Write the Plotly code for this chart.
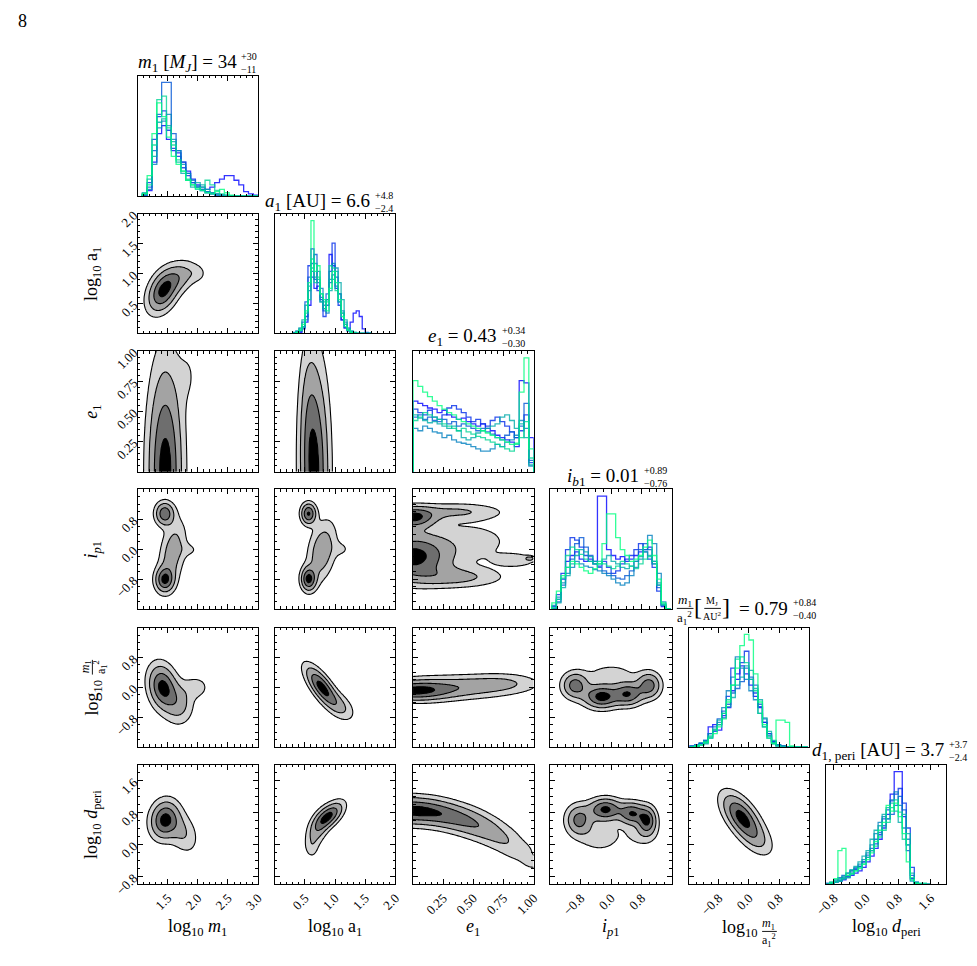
import numpy as np
import plotly.graph_objects as go

W, H = 977, 966
SERIF = "Liberation Serif"

# ------------------------------------------------------------------ data
axis_ranges = [(1.0, 3.0), (0.0, 2.0), (0.0, 1.0), (-1.6, 1.6), (-1.6, 1.6), (-1.0, 2.0)]
tick_values = [[1.5, 2.0, 2.5, 3.0], [0.5, 1.0, 1.5, 2.0], [0.25, 0.50, 0.75, 1.00],
               [-0.8, 0.0, 0.8], [-0.8, 0.0, 0.8], [-0.8, 0.0, 0.8, 1.6]]
tick_labels = [["1.5", "2.0", "2.5", "3.0"], ["0.5", "1.0", "1.5", "2.0"],
               ["0.25", "0.50", "0.75", "1.00"], ["\u22120.8", "0.0", "0.8"],
               ["\u22120.8", "0.0", "0.8"], ["\u22120.8", "0.0", "0.8", "1.6"]]
minor_step = [0.1, 0.1, 0.05, 0.2, 0.2, 0.2]

# histogram bins (start, width) for each parameter
hist_bin_start = [1.08, 0.30, 0.00, -1.56, -1.56, -1.00]
hist_bin_width = [0.08, 0.05, 0.04, 0.12, 0.12, 0.10]

# per-chain histograms (ordered blue -> green)
hist_log_m1 = [
    [1, 5, 30, 55, 62, 50, 40, 38, 30, 22, 15, 10, 8, 6, 8, 12, 15, 18, 18, 14, 10, 4, 2, 1],
    [1, 12, 50, 70, 75, 58, 42, 35, 25, 18, 12, 8, 5, 3, 2, 1, 1, 0, 0, 0, 0, 0, 0, 0],
    [2, 8, 40, 72, 100, 100, 55, 40, 30, 20, 12, 8, 6, 4, 3, 2, 1, 1, 0, 0, 0, 0, 0, 0],
    [1, 6, 28, 60, 66, 72, 50, 40, 28, 20, 14, 9, 6, 4, 2, 1, 0, 0, 0, 0, 0, 0, 0, 0],
    [3, 15, 35, 65, 68, 62, 48, 30, 20, 14, 8, 12, 10, 6, 3, 2, 1, 0, 0, 0, 0, 0, 0, 0],
    [2, 10, 45, 85, 88, 60, 45, 32, 22, 15, 10, 6, 8, 14, 10, 5, 2, 1, 0, 0, 0, 0, 0, 0],
    [2, 18, 55, 82, 70, 52, 35, 28, 22, 14, 10, 7, 5, 3, 2, 4, 6, 3, 1, 0, 0, 0, 0, 0],
]
hist_log_a1 = [
    [0, 0, 1, 4, 10, 25, 50, 40, 42, 30, 22, 30, 70, 60, 40, 28, 12, 5, 3, 10, 18, 20, 15, 4, 1, 0],
    [0, 1, 2, 6, 15, 60, 75, 48, 38, 28, 15, 25, 55, 80, 50, 25, 12, 5, 2, 1, 0, 0, 0, 0, 0, 0],
    [1, 2, 4, 10, 28, 50, 62, 70, 45, 32, 20, 35, 45, 52, 42, 35, 18, 8, 3, 1, 0, 0, 0, 0, 0, 0],
    [0, 1, 2, 5, 12, 38, 55, 50, 55, 40, 25, 18, 48, 62, 58, 35, 20, 10, 4, 2, 1, 0, 0, 0, 0, 0],
    [0, 2, 5, 12, 25, 42, 58, 62, 48, 35, 28, 30, 38, 48, 55, 45, 30, 12, 5, 2, 0, 0, 0, 0, 0, 0],
    [0, 1, 3, 6, 18, 30, 66, 45, 50, 28, 22, 28, 60, 58, 38, 28, 18, 8, 3, 1, 1, 0, 0, 0, 0, 0],
    [0, 1, 3, 8, 20, 45, 100, 55, 60, 35, 30, 20, 40, 55, 45, 30, 15, 6, 3, 1, 0, 0, 0, 0, 0, 0],
]
hist_e1 = [
    [62, 60, 58, 56, 55, 52, 54, 50, 48, 46, 47, 44, 42, 40, 42, 38, 36, 32, 30, 28, 26, 22, 80, 78, 30],
    [55, 52, 50, 54, 48, 46, 50, 56, 58, 55, 52, 48, 44, 46, 42, 40, 45, 48, 44, 40, 35, 30, 36, 50, 8],
    [48, 50, 46, 48, 45, 44, 46, 42, 44, 40, 42, 40, 38, 36, 38, 35, 33, 30, 28, 32, 35, 30, 40, 60, 10],
    [38, 36, 40, 38, 35, 34, 30, 32, 28, 26, 25, 24, 22, 20, 18, 18, 20, 24, 22, 26, 28, 32, 45, 38, 5],
    [50, 47, 45, 43, 44, 42, 40, 38, 40, 36, 30, 28, 30, 34, 36, 38, 40, 42, 48, 50, 45, 38, 42, 30, 6],
    [45, 48, 52, 50, 48, 46, 42, 40, 38, 36, 38, 35, 33, 31, 30, 28, 26, 24, 22, 20, 18, 24, 30, 44, 12],
    [80, 75, 70, 66, 62, 58, 55, 52, 50, 46, 44, 42, 40, 38, 36, 34, 32, 30, 28, 26, 24, 25, 70, 100, 20],
]
hist_ip1 = [
    [0, 8, 25, 40, 45, 48, 42, 40, 42, 40, 95, 95, 50, 45, 42, 44, 40, 42, 45, 48, 50, 52, 40, 20, 2, 0],
    [2, 12, 30, 50, 60, 58, 52, 45, 40, 38, 36, 40, 35, 30, 32, 38, 42, 45, 50, 55, 48, 42, 35, 15, 3, 0],
    [0, 6, 20, 35, 42, 55, 60, 52, 45, 38, 35, 32, 30, 28, 26, 25, 28, 32, 40, 50, 55, 50, 38, 18, 4, 0],
    [3, 10, 22, 30, 35, 40, 38, 36, 35, 33, 32, 30, 28, 25, 22, 20, 22, 28, 35, 42, 50, 62, 55, 30, 6, 0],
    [0, 5, 18, 28, 38, 45, 50, 48, 44, 40, 38, 42, 45, 40, 38, 35, 34, 36, 40, 44, 48, 45, 38, 22, 3, 0],
    [1, 8, 26, 45, 52, 50, 46, 42, 40, 38, 40, 38, 36, 34, 36, 40, 38, 36, 34, 38, 42, 44, 40, 20, 4, 0],
    [5, 15, 28, 35, 40, 38, 35, 32, 30, 34, 38, 55, 80, 80, 60, 50, 45, 40, 42, 45, 52, 58, 45, 25, 5, 0],
]
hist_log_m1_a1sq = [
    [1, 2, 3, 6, 18, 20, 15, 28, 35, 50, 60, 72, 65, 55, 45, 35, 22, 12, 5, 2, 1, 0, 0, 0, 0, 0],
    [0, 1, 2, 4, 8, 14, 20, 26, 45, 70, 65, 75, 85, 60, 48, 36, 22, 10, 4, 2, 0, 0, 0, 0, 0, 0],
    [0, 1, 3, 5, 12, 18, 25, 32, 38, 48, 52, 58, 70, 62, 55, 38, 25, 12, 5, 2, 1, 0, 0, 0, 0, 0],
    [1, 2, 4, 6, 12, 15, 22, 35, 50, 62, 80, 70, 60, 50, 42, 30, 18, 8, 3, 1, 0, 0, 0, 0, 0, 0],
    [0, 1, 2, 3, 9, 16, 24, 30, 36, 44, 55, 62, 72, 68, 52, 42, 26, 14, 6, 2, 1, 0, 0, 0, 0, 0],
    [0, 1, 2, 5, 10, 15, 20, 30, 42, 55, 78, 80, 75, 60, 50, 30, 18, 10, 4, 1, 0, 0, 0, 0, 0, 0],
    [0, 1, 2, 4, 8, 12, 18, 25, 40, 55, 70, 90, 100, 95, 65, 40, 20, 8, 3, 24, 24, 22, 1, 0, 0, 0],
]
hist_log_dperi = [
    [0, 1, 2, 3, 4, 6, 8, 10, 12, 15, 20, 25, 32, 40, 50, 62, 80, 100, 100, 60, 35, 5, 1, 0, 0, 0],
    [0, 1, 2, 3, 5, 7, 10, 13, 16, 20, 24, 30, 36, 44, 58, 66, 74, 80, 85, 72, 50, 15, 2, 0, 0, 0],
    [1, 2, 4, 6, 8, 10, 12, 14, 16, 20, 26, 32, 40, 46, 52, 58, 62, 70, 78, 66, 30, 8, 1, 0, 0, 0],
    [0, 1, 2, 4, 6, 8, 12, 15, 18, 22, 28, 35, 45, 55, 60, 58, 75, 82, 70, 50, 40, 3, 0, 0, 0, 0],
    [0, 1, 3, 5, 7, 10, 13, 16, 20, 25, 30, 40, 48, 52, 62, 68, 72, 65, 55, 62, 45, 10, 2, 0, 0, 0],
    [0, 1, 2, 3, 5, 6, 9, 12, 15, 18, 24, 30, 34, 42, 48, 55, 68, 75, 64, 40, 35, 6, 1, 1, 1, 0],
    [0, 2, 5, 30, 32, 8, 10, 12, 14, 18, 22, 28, 38, 48, 55, 70, 65, 72, 60, 45, 20, 4, 1, 0, 0, 0],
]
hist_sets = [hist_log_m1, hist_log_a1, hist_e1, hist_ip1, hist_log_m1_a1sq, hist_log_dperi]

# 2-D posterior density peaks: (x, y, sigma_x, sigma_y, corr, weight)
blobs_a1_m1 = [(1.42, 0.70, 0.16, 0.22, 0.35, 1.0), (1.70, 0.95, 0.18, 0.17, 0.3, 0.45),
               (2.0, 1.0, 0.11, 0.10, 0.0, 0.15)]
blobs_e1_m1 = [(1.46, 0.0, 0.18, 0.55, 0.0, 1.0), (1.85, 0.8, 0.13, 0.18, 0.0, 0.12)]
blobs_ip1_m1 = [(1.45, 0.95, 0.10, 0.20, 0.0, 1.0), (1.45, -0.82, 0.10, 0.21, 0.0, 1.0),
                (1.58, -0.10, 0.14, 0.55, 0.35, 0.6), (1.88, -0.02, 0.13, 0.14, 0.0, 0.16)]
blobs_q_m1 = [(1.42, 0.0, 0.15, 0.38, -0.2, 1.0), (1.70, -0.45, 0.15, 0.35, 0.0, 0.4),
              (1.98, 0.0, 0.14, 0.20, 0.0, 0.22)]
blobs_d_m1 = [(1.45, 0.62, 0.15, 0.30, 0.1, 1.0), (1.75, 0.30, 0.16, 0.33, -0.3, 0.35)]
blobs_e1_a1 = [(0.66, 0.0, 0.15, 0.55, 0.0, 1.0), (0.55, 0.5, 0.10, 0.40, 0.0, 0.2)]
blobs_ip1_a1 = [(0.56, 0.95, 0.08, 0.18, 0.0, 1.0), (0.56, -0.80, 0.08, 0.20, 0.0, 1.0),
                (0.78, -0.05, 0.15, 0.50, 0.3, 0.6), (1.12, 0.0, 0.11, 0.15, 0.0, 0.15)]
blobs_q_a1 = [(0.78, 0.0, 0.17, 0.35, -0.75, 1.0), (1.1, -0.5, 0.15, 0.25, -0.5, 0.3)]
blobs_d_a1 = [(0.9, 0.72, 0.15, 0.22, 0.6, 1.0), (0.7, 0.35, 0.12, 0.30, 0.5, 0.45),
              (0.62, -0.1, 0.07, 0.18, 0.0, 0.15)]
blobs_ip1_e1 = [(0.0, -0.2, 0.20, 0.40, 0.0, 1.0), (0.0, 0.85, 0.12, 0.18, 0.0, 0.9),
                (0.35, 1.0, 0.25, 0.15, 0.0, 0.35), (0.35, -0.75, 0.25, 0.18, 0.0, 0.4),
                (0.5, 0.2, 0.25, 0.40, 0.0, 0.2), (0.85, -0.3, 0.12, 0.12, 0.0, 0.25),
                (0.97, -0.25, 0.025, 0.04, 0.0, 0.35)]
blobs_q_e1 = [(0.0, -0.1, 0.20, 0.17, 0.0, 1.0), (0.35, 0.0, 0.30, 0.20, 0.0, 0.6),
              (0.75, 0.12, 0.20, 0.17, 0.0, 0.35)]
blobs_d_e1 = [(-0.125, 0.86, 0.1, 0.22, 0, 1.0), (0.0, 0.85, 0.1, 0.22, 0, 1.0),
              (0.125, 0.83, 0.1, 0.22, 0, 0.95), (0.25, 0.76, 0.1, 0.22, 0, 0.88),
              (0.375, 0.66, 0.1, 0.22, 0, 0.8), (0.5, 0.53, 0.1, 0.22, 0, 0.72),
              (0.625, 0.36, 0.1, 0.21, 0, 0.62), (0.75, 0.13, 0.1, 0.2, 0, 0.5),
              (0.875, -0.15, 0.1, 0.18, 0, 0.38), (1.0, -0.48, 0.1, 0.16, 0, 0.28),
              (1.125, -0.85, 0.1, 0.15, 0, 0.2)]
blobs_q_ip1 = [(-0.25, -0.25, 0.30, 0.20, 0.0, 1.0), (0.45, -0.18, 0.25, 0.20, 0.0, 0.85),
               (1.0, 0.05, 0.20, 0.22, 0.0, 0.75), (-0.95, 0.05, 0.22, 0.22, 0.0, 0.75),
               (0.0, 0.35, 0.5, 0.22, 0.0, 0.2)]
blobs_d_ip1 = [(-0.15, 0.88, 0.28, 0.18, 0.0, 1.0), (0.55, 0.78, 0.22, 0.18, 0.0, 0.9),
               (0.95, 0.6, 0.16, 0.22, 0.0, 0.9), (-0.85, 0.62, 0.22, 0.24, 0.0, 0.75),
               (-0.3, 0.2, 0.40, 0.27, 0.0, 0.25), (0.8, 0.25, 0.30, 0.22, 0.0, 0.2)]
blobs_d_q = [(-0.2, 0.7, 0.32, 0.36, -0.6, 1.0), (0.2, 0.15, 0.30, 0.30, -0.5, 0.3)]

density_blobs = {
    (1, 0): blobs_a1_m1, (2, 0): blobs_e1_m1, (3, 0): blobs_ip1_m1, (4, 0): blobs_q_m1, (5, 0): blobs_d_m1,
    (2, 1): blobs_e1_a1, (3, 1): blobs_ip1_a1, (4, 1): blobs_q_a1, (5, 1): blobs_d_a1,
    (3, 2): blobs_ip1_e1, (4, 2): blobs_q_e1, (5, 2): blobs_d_e1,
    (4, 3): blobs_q_ip1, (5, 3): blobs_d_ip1,
    (5, 4): blobs_d_q,
}
# contour levels (fraction of peak density: 2, 1.5, 1, 0.5 sigma)
contour_levels = [0.1353, 0.3247, 0.6065, 0.8825]

# ------------------------------------------------------------------ layout geometry
col_px = [(128, 251), (268, 391), (409, 532), (549, 673), (690, 813), (830, 953)]
row_px = [(71, 194), (212, 334), (352, 475), (493, 615), (634, 756), (774, 896)]


def fx(p):
    return p / W


def fy(p):
    return 1 - p / H


def winter(t, a=0.8):
    return "rgba(0,%d,%d,%.2f)" % (round(255 * t), round(255 * (1 - 0.5 * t)), a)


def density(blobs, xr, yr, n=110):
    x = np.linspace(xr[0], xr[1], n)
    y = np.linspace(yr[0], yr[1], n)
    X, Y = np.meshgrid(x, y)
    D = np.zeros_like(X)
    for cx, cy, sx, sy, r, w in blobs:
        dx = (X - cx) / sx
        dy = (Y - cy) / sy
        q = (dx * dx - 2 * r * dx * dy + dy * dy) / (1 - r * r)
        D += w * np.exp(-0.5 * q)
    D /= D.max()
    L = np.interp(D, [0] + contour_levels + [1.0], [0, 1, 2, 3, 4, 5])
    return x, y, np.round(L, 3)


fills = ["#ffffff", "#d3d3d3", "#a3a3a3", "#6e6e6e", "#000000"]
cscale = []
bounds = [0.0, 0.18, 0.38, 0.58, 0.78, 1.0]
for b in range(5):
    cscale.append([bounds[b], fills[b]])
    cscale.append([bounds[b + 1], fills[b]])

fig = go.Figure()
layout = dict(width=W, height=H, autosize=False, margin=dict(l=0, r=0, t=0, b=0),
              paper_bgcolor="white", plot_bgcolor="white", showlegend=False,
              font=dict(family=SERIF, color="black"))

tickfont = dict(family=SERIF, size=13, color="black")
k = 0
for i in range(6):
    for j in range(i + 1):
        k += 1
        xid = "x" if k == 1 else "x%d" % k
        yid = "y" if k == 1 else "y%d" % k
        xkey = "xaxis" if k == 1 else "xaxis%d" % k
        ykey = "yaxis" if k == 1 else "yaxis%d" % k
        common = dict(showline=True, linecolor="black", linewidth=1.3, showgrid=False, zeroline=False,
                      fixedrange=True)
        ticked = dict(mirror="allticks", ticks="inside", ticklen=5, tickwidth=1, tickcolor="black",
                      tickangle=-45, tickfont=tickfont)
        xa = dict(domain=[fx(col_px[j][0]), fx(col_px[j][1])], range=list(axis_ranges[j]),
                  anchor=yid, tickmode="array", tickvals=tick_values[j], ticktext=tick_labels[j],
                  showticklabels=(i == 5),
                  minor=dict(ticks="inside", ticklen=2.5, tickwidth=1, tickcolor="black",
                             dtick=minor_step[j], tick0=0, showgrid=False),
                  **common, **ticked)
        layout[xkey] = xa
        if i == j:
            chains = hist_sets[i]
            ymax = max(max(c) for c in chains) / 0.943
            layout[ykey] = dict(domain=[fy(row_px[i][1]), fy(row_px[i][0])], range=[0, ymax],
                                anchor=xid, mirror=True, ticks="", showticklabels=False, **common)
            n = len(chains)
            for c, counts in enumerate(chains):
                nb = len(counts)
                edges = [hist_bin_start[i] + hist_bin_width[i] * b for b in range(nb + 1)]
                xs = [edges[0]] + edges[:nb] + [edges[nb]]
                ys = [0] + list(counts) + [0]
                fig.add_trace(go.Scatter(x=xs, y=ys, mode="lines", line_shape="hv",
                                         line=dict(color=winter(c / (n - 1)), width=1.3),
                                         xaxis=xid, yaxis=yid, hoverinfo="skip"))
        else:
            layout[ykey] = dict(domain=[fy(row_px[i][1]), fy(row_px[i][0])], range=list(axis_ranges[i]),
                                anchor=xid, tickmode="array", tickvals=tick_values[i],
                                ticktext=tick_labels[i], showticklabels=(j == 0),
                                minor=dict(ticks="inside", ticklen=2.5, tickwidth=1, tickcolor="black",
                                           dtick=minor_step[i], tick0=0, showgrid=False),
                                **common, **ticked)
            gx, gy, L = density(density_blobs[(i, j)], axis_ranges[j], axis_ranges[i])
            fig.add_trace(go.Contour(x=gx, y=gy, z=L, xaxis=xid, yaxis=yid, zmin=0, zmax=5,
                                     zauto=False, autocontour=False,
                                     contours=dict(start=1, end=4, size=1, coloring="fill",
                                                   showlines=True),
                                     line=dict(color="black", width=1.1),
                                     colorscale=cscale, showscale=False, hoverinfo="skip"))

# ------------------------------------------------------------------ text
ann = []
shapes = []


def text(t, x, y, size, xanchor="center", yanchor="middle", angle=0, align="center"):
    ann.append(dict(text=t, x=fx(x), y=fy(y), xref="paper", yref="paper", showarrow=False,
                    xanchor=xanchor, yanchor=yanchor, textangle=angle, align=align,
                    font=dict(family=SERIF, size=size, color="black")))


def hline(x0, x1, y):
    shapes.append(dict(type="line", xref="paper", yref="paper", x0=fx(x0), x1=fx(x1), y0=fy(y), y1=fy(y),
                       line=dict(color="black", width=0.9)))


def vline(x, y0, y1):
    shapes.append(dict(type="line", xref="paper", yref="paper", x0=fx(x), x1=fx(x), y0=fy(y0), y1=fy(y1),
                       line=dict(color="black", width=0.9)))


text("8", 11, 15, 18)

# panel titles: main text, then stacked +/- errors
title_main = ["<i>m</i><sub>1</sub> [<i>M<sub>J</sub></i>] = 34",
              "<i>a</i><sub>1</sub> [AU] = 6.6",
              "<i>e</i><sub>1</sub> = 0.43",
              "<i>i</i><sub><i>b</i>1</sub> = 0.01",
              "= 0.79",
              "<i>d</i><sub>1, peri</sub> [AU] = 3.7"]
title_up = ["+30", "+4.8", "+0.34", "+0.89", "+0.84", "+3.7"]
title_dn = ["\u221211", "\u22122.4", "\u22120.30", "\u22120.76", "\u22120.40", "\u22122.4"]
title_split = [231, 367, 497, 641, 793, 953]
title_y = [58, 200, 338, 480, 615, 760]
for c in range(6):
    text(title_main[c], title_split[c], title_y[c], 19, xanchor="right")
    text(title_up[c] + "<br>" + title_dn[c], title_split[c] + 1, title_y[c], 10,
         xanchor="left", align="left")
# fraction part of the 5th title
text("<i>m</i><sub>1</sub>", 686, 606, 13)
hline(678, 695, 614.5)
text("a<sub>1</sub><sup>2</sup>", 686, 624, 13)
text("[", 700, 613, 24)
text("M<sub>J</sub>", 714, 607, 10)
hline(706, 723, 614.5)
text("AU<sup>2</sup>", 714, 622, 10)
text("]", 728, 613, 24)

# x axis titles
xt = ["log<sub>10</sub> <i>m</i><sub>1</sub>", "log<sub>10</sub> a<sub>1</sub>", "<i>e</i><sub>1</sub>",
      "<i>i</i><sub><i>p</i>1</sub>", None, "log<sub>10</sub> <i>d</i><sub>peri</sub>"]
for c in range(6):
    if xt[c]:
        text(xt[c], (col_px[c][0] + col_px[c][1]) / 2, 940, 18)
text("log<sub>10</sub>", 763, 941, 18, xanchor="right")
text("<i>m</i><sub>1</sub>", 772, 936, 12)
hline(765, 780, 944)
text("a<sub>1</sub><sup>2</sup>", 772, 953, 12)

# y axis titles
yt = [None, "log<sub>10</sub> a<sub>1</sub>", "<i>e</i><sub>1</sub>", "<i>i</i><sub><i>p</i>1</sub>",
      None, "log<sub>10</sub> <i>d</i><sub>peri</sub>"]
for r in range(6):
    if yt[r]:
        text(yt[r], 82, (row_px[r][0] + row_px[r][1]) / 2, 18, angle=-90)
text("log<sub>10</sub>", 83, 705, 18, angle=-90)
text("<i>m</i><sub>1</sub>", 75, 674, 12, angle=-90)
vline(82, 667, 682)
text("a<sub>1</sub><sup>2</sup>", 91, 674, 12, angle=-90)

layout["annotations"] = ann
layout["shapes"] = shapes
fig.update_layout(**layout)
fig.write_html("out.html")
